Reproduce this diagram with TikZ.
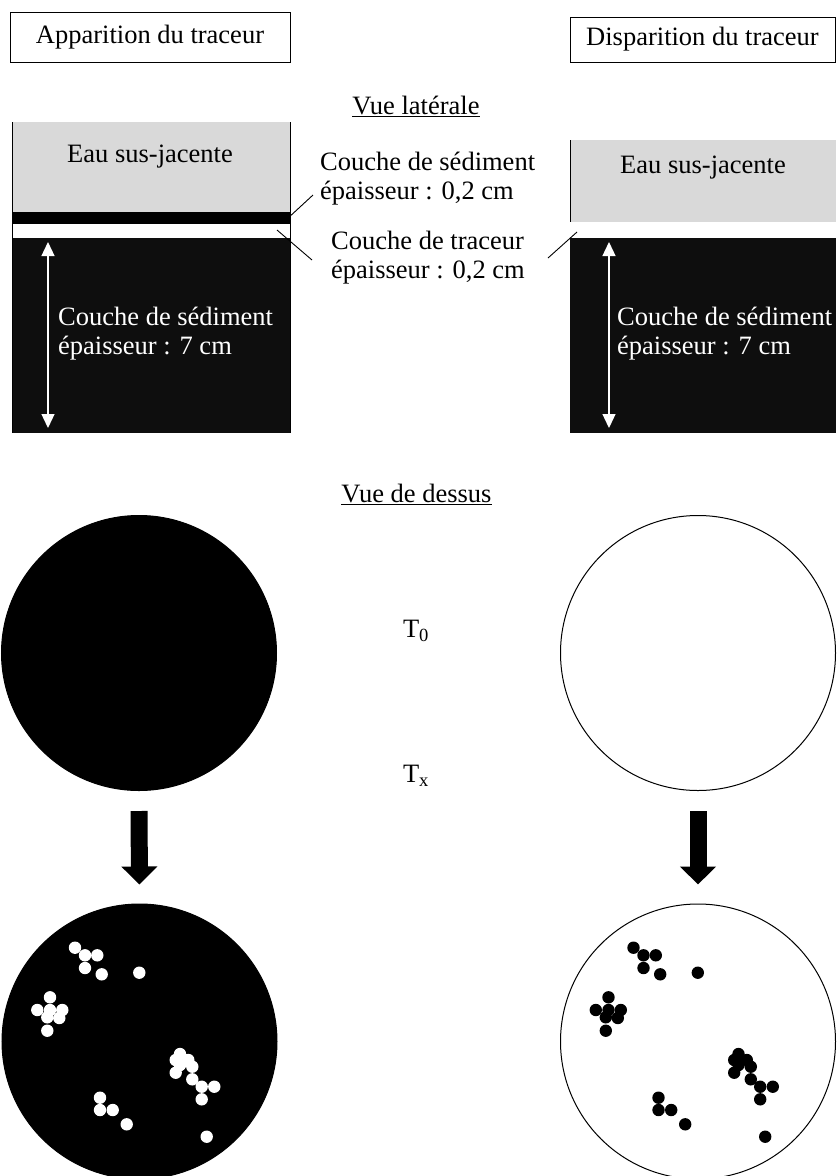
\documentclass[tikz,border=0pt]{standalone}
\usepackage{fontspec}
\setmainfont{Liberation Serif}
\usetikzlibrary{arrows.meta}
\definecolor{watergray}{RGB}{217,217,217}
\definecolor{sedblack}{RGB}{14,14,14}
\newcommand{\tracergrains}{-64.5/-93.8, -54.5/-86.2, -42.2/-86.2, -54.5/-73.5,
  -37.8/-67.2, -0.2/-68.8, -89.5/-44.2, -102.2/-31.5, -89.5/-31.5, -77.2/-31.5,
  -92.2/-24.2, -80.2/-23.5, -92.2/-10.8, 40.5/12.5, 48.8/18.5, 36.2/18.5,
  52.8/25.2, 40.5/23.5, 36.2/31.2, 52.8/37.8, 62.2/45.2, 74.8/45.2, 62.2/57.8,
  -39.5/56.2, -39.5/68.5, -26.8/68.5, -12.8/82.8, 67.2/95.2}
\tikzset{
  lab/.style={font=\fontsize{26.5}{29}\selectfont, inner sep=0pt},
  titlebox/.style={lab, draw=black, line width=1pt},
  sidelab/.style={lab, align=left, anchor=west},
  whitelab/.style={sidelab, text=white},
  wall/.style={black, line width=1pt},
  leader/.style={black, line width=0.9pt},
  depth/.style={white, line width=1.3pt,
                {Triangle[width=13pt,length=14pt]}-{Triangle[width=13pt,length=14pt]}},
  disk/.style={circle, draw=black, line width=1pt, minimum size=275pt, inner sep=0pt},
  bigarrow/.style={black, line width=17pt, -{Triangle[width=35pt,length=18pt]},
                   shorten <=20pt, shorten >=19pt},
}

\begin{document}
\begin{tikzpicture}[x=1pt,y=-1pt]
  \path[use as bounding box] (0,0) rectangle (836,1176);

  \node[titlebox, minimum width=280pt, minimum height=50pt] (appear) at (150,37)
    {Apparition du traceur};
  \node[titlebox, minimum width=265pt, minimum height=45pt] (vanish) at (702.5,39.5)
    {Disparition du traceur};
  \node[lab] (sideview) at (416,106) {\underline{Vue latérale}};

  % Appearance core, side view.
  \fill[watergray] (12,122) rectangle (290,212);
  \fill[black] (12,212) rectangle (290,224);
  \fill[sedblack] (12,238) rectangle (290,433);
  \draw[wall] (12,122) -- (12,433);
  \draw[wall] (290,122) -- (290,433);
  \node[lab] (waterL) at (150,157) {Eau sus-jacente};
  \draw[depth] (48,242) -- (48,428);
  \node[whitelab] (sedL) at (58,334) {Couche de sédiment\\épaisseur : 7 cm};

  \node[sidelab] (thinsed) at (320,179) {Couche de sédiment\\épaisseur : 0,2 cm};
  \node[sidelab] (tracer) at (331,258) {Couche de traceur\\épaisseur : 0,2 cm};
  \coordinate (sedband) at (287,219);
  \coordinate (sedtip) at (313,195);
  \coordinate (tracerbandL) at (277,230);
  \coordinate (tracertipL) at (312,260);
  \coordinate (tracerbandR) at (577,232);
  \coordinate (tracertipR) at (548,258);
  \draw[leader] (sedband) -- (sedtip);
  \draw[leader] (tracerbandL) -- (tracertipL);
  \draw[leader] (tracerbandR) -- (tracertipR);

  % Disappearance core, side view.
  \fill[watergray] (570,140) rectangle (836,222);
  \fill[sedblack] (570,238) rectangle (836,433);
  \draw[wall] (570,140) -- (570,222);
  \node[lab] (waterR) at (703,168) {Eau sus-jacente};
  \draw[depth] (609,242) -- (609,428);
  \node[whitelab] (sedR) at (617,334) {Couche de sédiment\\épaisseur : 7 cm};

  % Top views.
  \node[lab] (topview) at (416.5,494) {\underline{Vue de dessus}};
  \node[disk, fill=black] (topL) at (139,653) {};
  \node[disk, fill=white] (topR) at (698,653) {};
  \node[disk, fill=black] (botL) at (139.5,1041.5) {};
  \node[disk, fill=white] (botR) at (698,1041.5) {};
  \node[lab] (tzero) at (416,631) {T\textsubscript{0}};
  \node[lab] (tx) at (416,776) {T\textsubscript{x}};
  \draw[bigarrow] (topL.south) -- (botL.north);
  \draw[bigarrow] (topR.south) -- (botR.north);

  \foreach \dx/\dy in \tracergrains {
    \fill[white, shift={(botL.center)}] (\dx,\dy) circle[radius=6.2pt];
    \fill[black, shift={(botR.center)}] (\dx,\dy) circle[radius=6.2pt];
  }
\end{tikzpicture}
\end{document}
